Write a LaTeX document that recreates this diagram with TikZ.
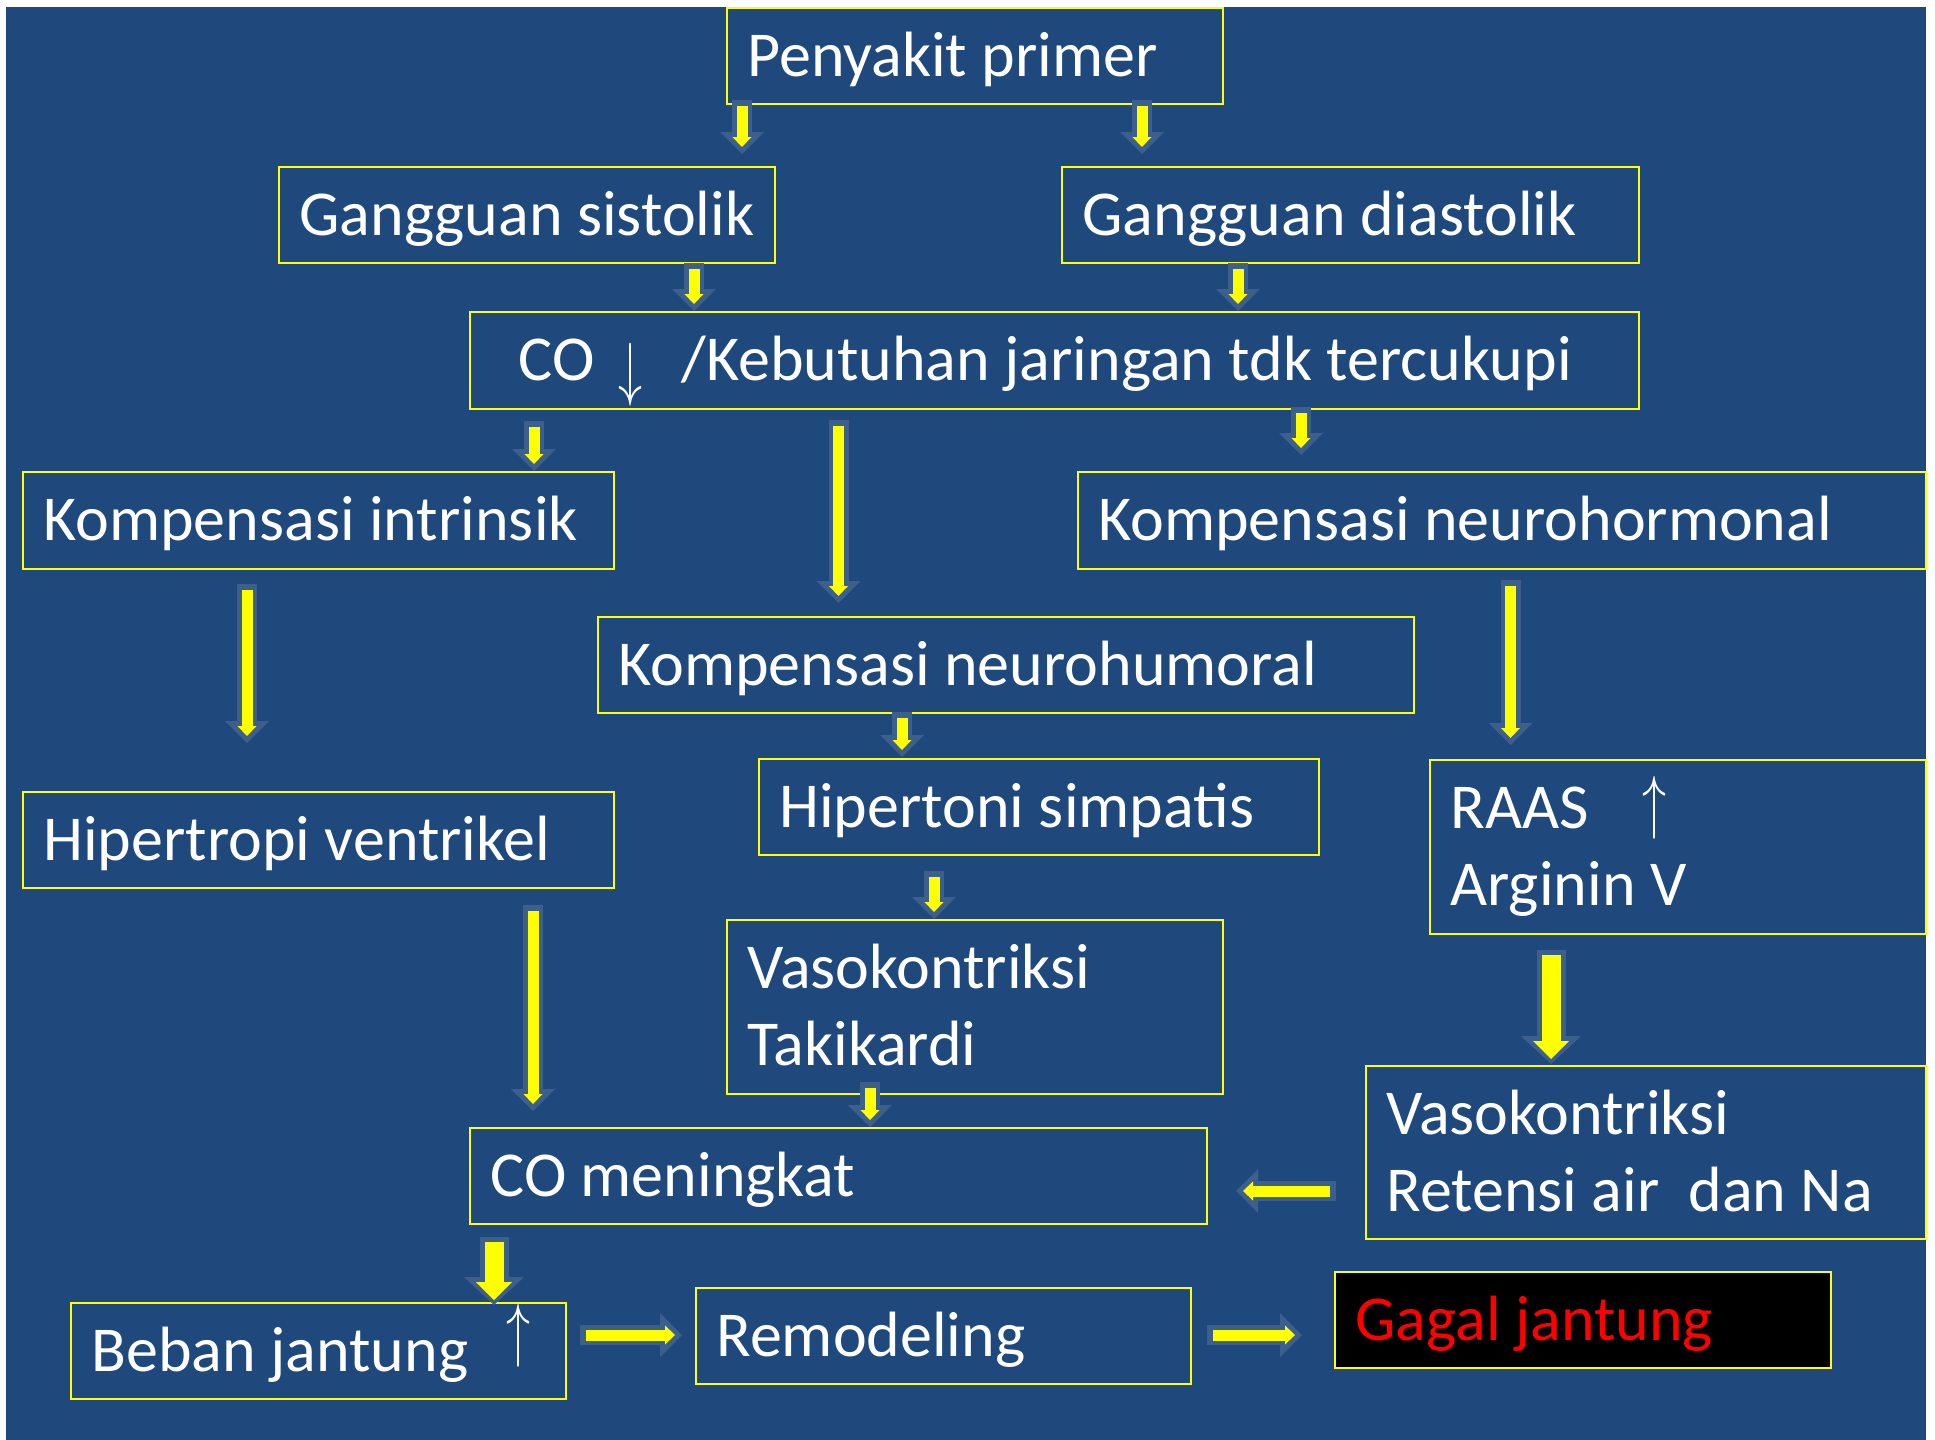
\documentclass[tikz,border=0pt]{standalone}
\usepackage{fontspec}
\setmainfont{Carlito}
\usepackage{graphicx}
\usetikzlibrary{arrows.meta,calc}
\definecolor{bgblue}{RGB}{31,73,125}
\definecolor{arredge}{RGB}{61,95,139}
\definecolor{boxyellow}{RGB}{255,255,0}
\begin{document}
\begin{tikzpicture}[x=0.5pt,y=-0.5pt,
  box/.style={draw=boxyellow, line width=1.2pt, rectangle, inner sep=0pt, anchor=north west},
  lbl/.style={text=white, anchor=base west, inner sep=0pt, font=\fontsize{32pt}{38pt}\selectfont},
  glyph/.style={text=white, inner sep=0pt},
  thinout/.style={draw=arredge, line width=10pt, line cap=butt,
    -{Triangle[width=22pt,length=11pt,line width=0pt]}},
  thinin/.style={draw=boxyellow, line width=5.5pt, line cap=butt,
    -{Triangle[width=9.5pt,length=5pt,line width=0pt]}, shorten <=3pt, shorten >=3.5pt},
  thickout/.style={draw=arredge, line width=14.5pt, line cap=butt,
    -{Triangle[width=30pt,length=14pt,line width=0pt]}},
  thickin/.style={draw=boxyellow, line width=9.5pt, line cap=butt,
    -{Triangle[width=18pt,length=9pt,line width=0pt]}, shorten <=2.5pt, shorten >=2.5pt}]

\useasboundingbox (0,0) rectangle (1935,1440);
\fill[white] (0,0) rectangle (1935,1440);
\fill[bgblue] (6,7) rectangle (1926,1440);

% boxes
\node[box, minimum width=248pt,   minimum height=48pt]   (pen)  at (726,7)    {};
\node[box, minimum width=248pt,   minimum height=48pt]   (sis)  at (278,166)  {};
\node[box, minimum width=288.5pt, minimum height=48pt]   (dia)  at (1061,166) {};
\node[box, minimum width=584.5pt, minimum height=48.5pt] (co)   at (469,311)  {};
\node[box, minimum width=295.5pt, minimum height=48.5pt] (kin)  at (22,471)   {};
\node[box, minimum width=424pt,   minimum height=48.5pt] (knh)  at (1077,471) {};
\node[box, minimum width=408pt,   minimum height=48pt]   (khu)  at (597,616)  {};
\node[box, minimum width=280pt,   minimum height=48pt]   (hip)  at (758,758)  {};
\node[box, minimum width=295.5pt, minimum height=48pt]   (hve)  at (22,791)   {};
\node[box, minimum width=248pt,   minimum height=87pt]   (raas) at (1429,759) {};
\node[box, minimum width=248pt,   minimum height=87pt]   (vtk)  at (726,919)  {};
\node[box, minimum width=368.5pt, minimum height=48pt]   (com)  at (469,1127) {};
\node[box, minimum width=280pt,   minimum height=86.5pt] (vre)  at (1365,1065){};
\node[box, minimum width=247.5pt, minimum height=48pt]   (beb)  at (70,1302)  {};
\node[box, minimum width=247.5pt, minimum height=48pt]   (rem)  at (695,1287) {};
\node[box, fill=black, minimum width=248pt, minimum height=48pt] (gag) at (1334,1271) {};

% labels
\node[lbl] (tpen) at ($(pen.north west)+(21,69)$) {Penyakit primer};
\node[lbl] (tsis) at ($(sis.north west)+(21,69)$) {Gangguan sistolik};
\node[lbl] (tdia) at ($(dia.north west)+(21,69)$) {Gangguan diastolik};
\node[lbl] (tco1) at ($(co.north west)+(49,69)$) {CO};
\node[glyph] (tco2) at (630,374.5) {\resizebox*{12pt}{31.5pt}{$\downarrow$}};
\node[lbl] (tco3) at ($(co.north west)+(212,69)$) {/Kebutuhan jaringan tdk tercukupi};
\node[lbl] (tkin) at ($(kin.north west)+(21,69)$) {Kompensasi intrinsik};
\node[lbl] (tknh) at ($(knh.north west)+(21,69)$) {Kompensasi neurohormonal};
\node[lbl] (tkhu) at ($(khu.north west)+(21,69)$) {Kompensasi neurohumoral};
\node[lbl] (thip) at ($(hip.north west)+(21,69)$) {Hipertoni simpatis};
\node[lbl] (thve) at ($(hve.north west)+(21,69)$) {Hipertropi ventrikel};
\node[lbl] (traas1) at ($(raas.north west)+(21,69)$) {RAAS};
\node[glyph] (traas2) at (1654,807.5) {\resizebox*{12pt}{31.5pt}{$\uparrow$}};
\node[lbl] (traas3) at ($(raas.north west)+(21,146)$) {Arginin V};
\node[lbl] (tvtk1) at ($(vtk.north west)+(21,69)$) {Vasokontriksi};
\node[lbl] (tvtk2) at ($(vtk.north west)+(21,146)$) {Takikardi};
\node[lbl] (tcom) at ($(com.north west)+(21,69)$) {CO meningkat};
\node[lbl] (tvre1) at ($(vre.north west)+(21,69)$) {Vasokontriksi};
\node[lbl] (tvre2) at ($(vre.north west)+(21,146)$) {Retensi air\ \ dan Na};
\node[lbl] (tbeb1) at ($(beb.north west)+(21,69)$) {Beban jantung};
\node[glyph] (tbeb2) at (518,1335.5) {\resizebox*{12pt}{31.5pt}{$\uparrow$}};
\node[lbl] (trem) at ($(rem.north west)+(21,69)$) {Remodeling};
\node[lbl, text=red] (tgag) at ($(gag.north west)+(21,69)$) {Gagal jantung};

% block arrow end points
\coordinate (a1s) at (742,100);   \coordinate (a1e) at (742,154);
\coordinate (a2s) at (1142,100);  \coordinate (a2e) at (1142,154);
\coordinate (a3s) at (694,263);   \coordinate (a3e) at (694,311);
\coordinate (a4s) at (1238,263);  \coordinate (a4e) at (1238,311);
\coordinate (a5s) at (534,421);   \coordinate (a5e) at (534,471);
\coordinate (a6s) at (838.5,420); \coordinate (a6e) at (838.5,603);
\coordinate (a7s) at (1301,407);  \coordinate (a7e) at (1301,455);
\coordinate (a8s) at (247,584);   \coordinate (a8e) at (247,743);
\coordinate (a9s) at (1510.5,580);\coordinate (a9e) at (1510.5,745);
\coordinate (a10s) at (902,712);  \coordinate (a10e) at (902,757);
\coordinate (a11s) at (533,905);  \coordinate (a11e) at (533,1111);
\coordinate (a12s) at (934,871);  \coordinate (a12e) at (934,919);
\coordinate (a13s) at (870,1082); \coordinate (a13e) at (870,1127);
\coordinate (a14s) at (1551,950); \coordinate (a14e) at (1551,1064);
\coordinate (a15s) at (1336,1191);\coordinate (a15e) at (1236,1191);
\coordinate (a16s) at (494,1237); \coordinate (a16e) at (494,1305);
\coordinate (a17s) at (580,1335); \coordinate (a17e) at (682,1335);
\coordinate (a18s) at (1207,1335);\coordinate (a18e) at (1302,1335);

% thin block arrows
\foreach \i in {1,2,3,4,5,6,7,8,9,10,11,12,13,15,17,18}{
  \draw[thinout] (a\i s) -- (a\i e);
  \draw[thinin]  (a\i s) -- (a\i e);
}
% thick block arrows
\foreach \i in {14,16}{
  \draw[thickout] (a\i s) -- (a\i e);
  \draw[thickin]  (a\i s) -- (a\i e);
}
\end{tikzpicture}
\end{document}
